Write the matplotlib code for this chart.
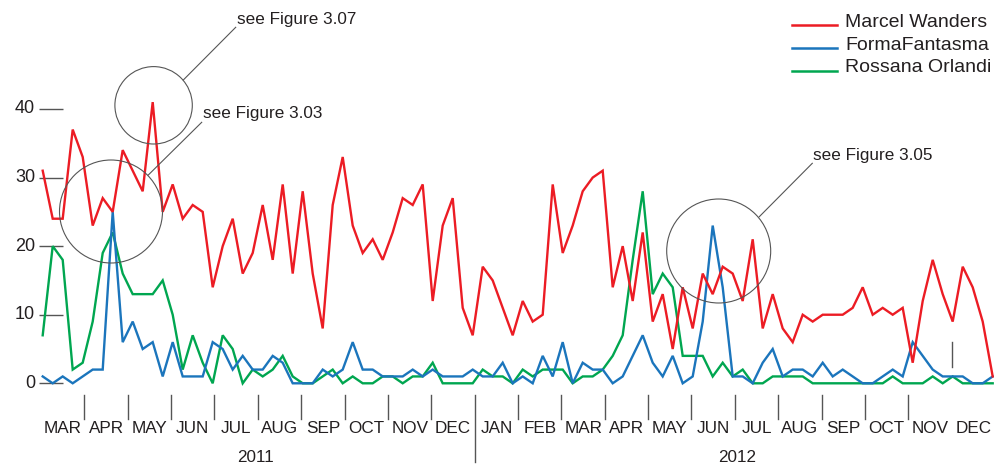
import matplotlib.pyplot as plt
from matplotlib.patches import Circle

plt.rcParams['font.family'] = ['Liberation Sans', 'DejaVu Sans']

# weekly counts, first week of March 2011 to end of December 2012
marcel_wanders = [31, 24, 24, 37, 33, 23, 27, 25, 34, 31, 28, 41, 25, 29, 24, 26,
                  25, 14, 20, 24, 16, 19, 26, 18, 29, 16, 28, 16, 8, 26, 33, 23,
                  19, 21, 18, 22, 27, 26, 29, 12, 23, 27, 11, 7, 17, 15, 11, 7,
                  12, 9, 10, 29, 19, 23, 28, 30, 31, 14, 20, 12, 22, 9, 13, 5,
                  14, 8, 16, 13, 17, 16, 12, 21, 8, 13, 8, 6, 10, 9, 10, 10,
                  10, 11, 14, 10, 11, 10, 11, 3, 12, 18, 13, 9, 17, 14, 9, 1]
forma_fantasma = [1, 0, 1, 0, 1, 2, 2, 25, 6, 9, 5, 6, 1, 6, 1, 1,
                  1, 6, 5, 2, 4, 2, 2, 4, 3, 0, 0, 0, 2, 1, 2, 6,
                  2, 2, 1, 1, 1, 2, 1, 2, 1, 1, 1, 2, 1, 1, 3, 0,
                  1, 0, 4, 1, 6, 0, 3, 2, 2, 0, 1, 4, 7, 3, 1, 4,
                  0, 1, 9, 23, 14, 1, 1, 0, 3, 5, 1, 2, 2, 1, 3, 1,
                  2, 1, 0, 0, 1, 2, 1, 6, 4, 2, 1, 1, 1, 0, 0, 1]
rossana_orlandi = [7, 20, 18, 2, 3, 9, 19, 22, 16, 13, 13, 13, 15, 10, 2, 7,
                   3, 0, 7, 5, 0, 2, 1, 2, 4, 1, 0, 0, 1, 2, 0, 1,
                   0, 0, 1, 1, 0, 1, 1, 3, 0, 0, 0, 0, 2, 1, 1, 0,
                   2, 1, 2, 2, 2, 0, 1, 1, 2, 4, 7, 18, 28, 13, 16, 14,
                   4, 4, 4, 1, 3, 1, 2, 0, 0, 1, 1, 1, 1, 0, 0, 0,
                   0, 0, 0, 0, 0, 1, 0, 0, 0, 1, 0, 1, 0, 0, 0, 0]

series_names = ["Marcel Wanders", "FormaFantasma", "Rossana Orlandi"]
y_ticks = [0, 10, 20, 30, 40]
months = ["MAR", "APR", "MAY", "JUN", "JUL", "AUG", "SEP", "OCT", "NOV", "DEC",
          "JAN", "FEB", "MAR", "APR", "MAY", "JUN", "JUL", "AUG", "SEP", "OCT", "NOV", "DEC"]
years = ["2011", "2012"]
callouts = ["see Figure 3.07", "see Figure 3.03", "see Figure 3.05"]

RED = "#ec1c24"
BLUE = "#1b75bc"
GREEN = "#00a650"
GREY = "#555555"
INK = "#231f20"

W, H = 994, 466
fig = plt.figure(figsize=(W / 100, H / 100), dpi=100)

# data axes: week i sits at 42.7 + 10*i px, value v at 383.3 - 6.858*v px
ax = fig.add_axes([0, 0, 1, 1])
ax.set_xlim(-42.7 / 10, (W - 42.7) / 10)
ax.set_ylim((383.3 - H) / 6.858, 383.3 / 6.858)
ax.axis("off")

weeks = list(range(len(marcel_wanders)))
ax.plot(weeks, rossana_orlandi, color=GREEN, lw=1.7, solid_joinstyle="miter", zorder=2)
ax.plot(weeks, forma_fantasma, color=BLUE, lw=1.7, solid_joinstyle="miter", zorder=3)
ax.plot(weeks, marcel_wanders, color=RED, lw=1.7, solid_joinstyle="miter", zorder=4)

# y ticks drawn by hand (short grey dashes left of the data)
ytr = ax.get_yaxis_transform()
ax.hlines(y_ticks, 39 / W, 63 / W, transform=ytr, color=GREY, lw=1.0, zorder=1)
for v in y_ticks:
    ax.text(35 / W, v, str(v), transform=ytr, ha="right", va="center",
            fontsize=13, color=INK)

# overlay in pixel units for the decorations
deco = fig.add_axes([0, 0, 1, 1], zorder=5)
deco.set_xlim(0, W)
deco.set_ylim(H, 0)
deco.axis("off")
deco.patch.set_alpha(0)

# month ticks and labels
step = 43.37
for i in range(20):
    x = 84.3 + step * i
    if i == 9:
        deco.plot([x, x], [395, 462], color=GREY, lw=1.0)
    else:
        deco.plot([x, x], [395, 419], color=GREY, lw=1.0)
deco.plot([84.3 + step * 20] * 2, [342, 367], color=GREY, lw=1.0)
for i, m in enumerate(months):
    deco.text(62.7 + step * i, 428.5, m, ha="center", va="center",
              fontsize=12.3, color=INK)
deco.text(256, 457, years[0], ha="center", va="center", fontsize=12.3, color=INK)
deco.text(737, 457, years[1], ha="center", va="center", fontsize=12.3, color=INK)

# callout circles with leader lines
circles = [((153.6, 105.3), 38.7), ((111, 211.5), 51.5), ((718.7, 251), 52)]
leaders = [((235.7, 27.3), (183.3, 80)), ((201.7, 122.3), (148.3, 175)),
           ((812.3, 163.3), (759.3, 216.7))]
labels_at = [(237.3, 19.3), (203.3, 113.3), (813.3, 155.7)]
for (c, r), (p0, p1), (tx, ty), txt in zip(circles, leaders, labels_at, callouts):
    deco.add_patch(Circle(c, r, fill=False, ec=GREY, lw=0.8))
    deco.plot([p0[0], p1[0]], [p0[1], p1[1]], color=GREY, lw=0.8)
    deco.text(tx, ty, txt, ha="left", va="center", fontsize=12.3, color=INK)

# legend
for y, name, col in zip([25, 48.3, 70.7], series_names, [RED, BLUE, GREEN]):
    deco.plot([791.7, 836.7], [y, y], color=col, lw=1.8)
    deco.text(845, y + 1.7, name, ha="left", va="baseline", fontsize=14, color=INK)

fig.savefig("out.png", dpi=100)
